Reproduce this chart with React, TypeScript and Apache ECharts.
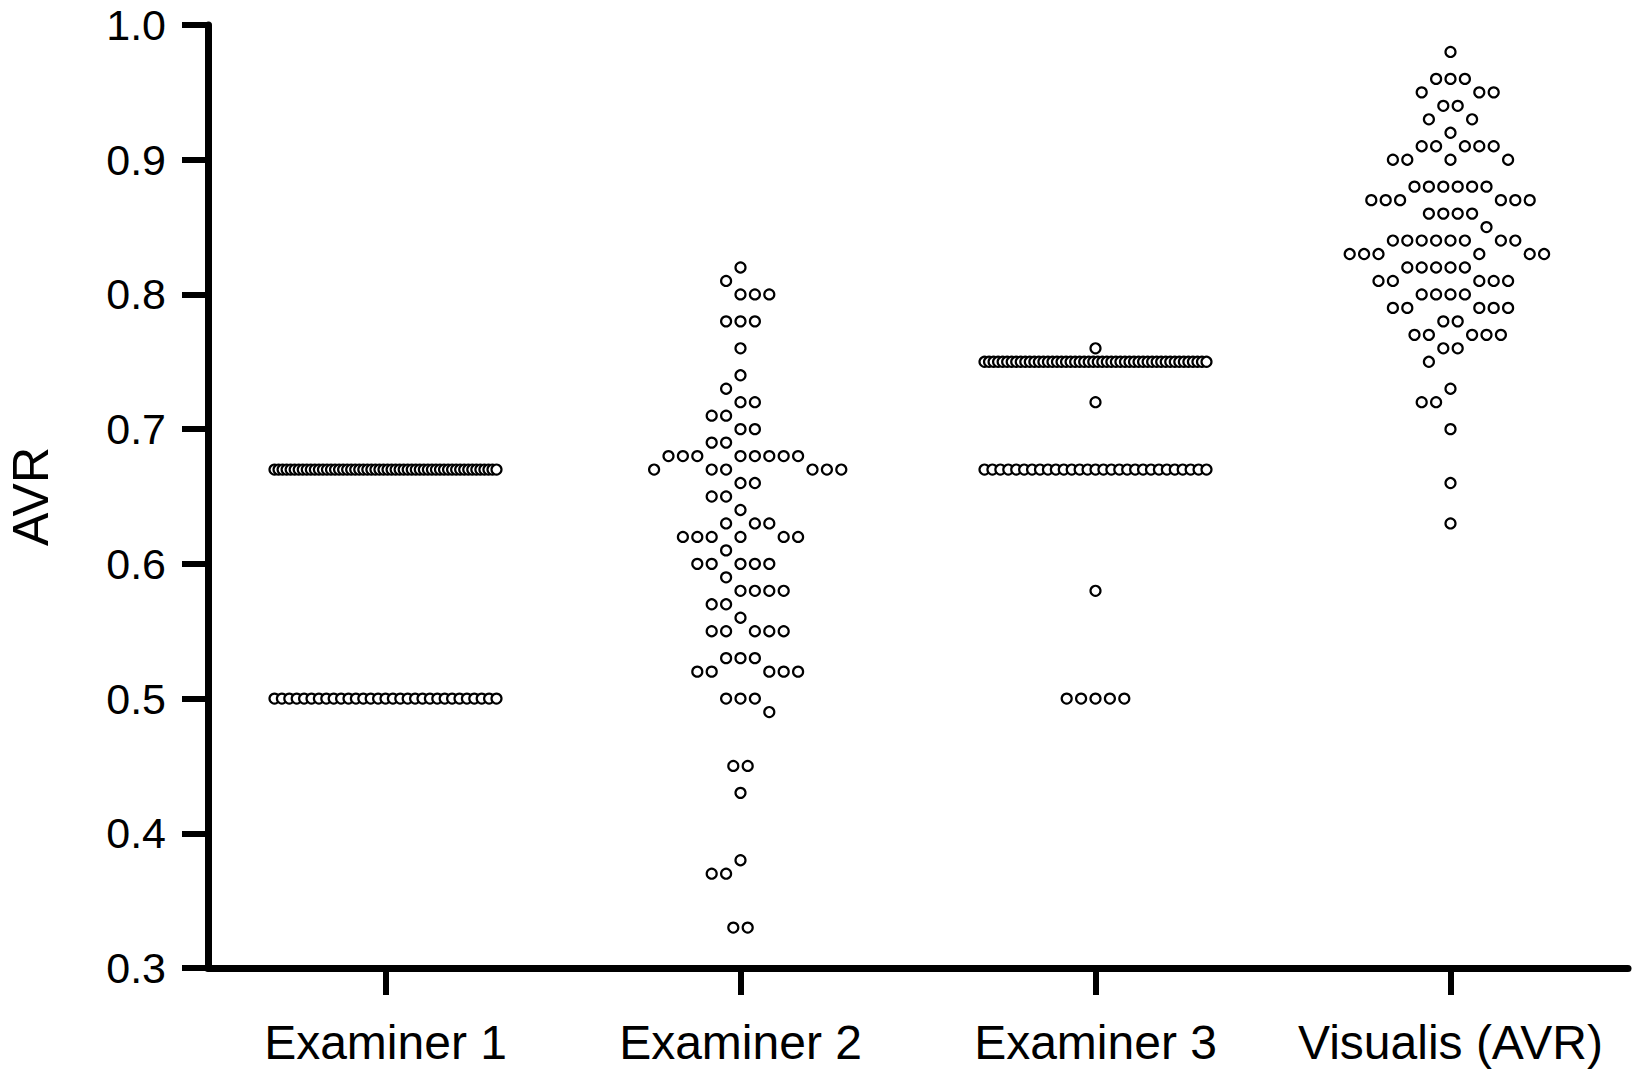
import React, { useEffect, useRef } from "react";
import * as echarts from "echarts";

// ---------- data ----------
const categories = ["Examiner 1", "Examiner 2", "Examiner 3", "Visualis (AVR)"];

// [AVR value, number of eyes with that value]
const examiner1: [number, number][] = [
  [0.67, 56],
  [0.5, 31],
];

const examiner2: [number, number][] = [
  [0.82, 1], [0.81, 1], [0.8, 3], [0.78, 3], [0.76, 1], [0.74, 1], [0.73, 1],
  [0.72, 2], [0.71, 2], [0.7, 2], [0.69, 2], [0.68, 8], [0.67, 6], [0.66, 2],
  [0.65, 2], [0.64, 1], [0.63, 3], [0.62, 6], [0.61, 1], [0.6, 5], [0.59, 1],
  [0.58, 4], [0.57, 2], [0.56, 1], [0.55, 5], [0.53, 3], [0.52, 5], [0.5, 3],
  [0.49, 1], [0.45, 2], [0.43, 1], [0.38, 1], [0.37, 2], [0.33, 2],
];

const examiner3: [number, number][] = [
  [0.76, 1],
  [0.75, 50],
  [0.72, 1],
  [0.67, 29],
  [0.58, 1],
  [0.5, 5],
];

const visualis: [number, number][] = [
  [0.98, 1], [0.96, 3], [0.95, 3], [0.94, 2], [0.93, 2], [0.92, 1], [0.91, 5],
  [0.9, 4], [0.88, 6], [0.87, 6], [0.86, 4], [0.85, 1], [0.84, 8], [0.83, 6],
  [0.82, 5], [0.81, 5], [0.8, 4], [0.79, 5], [0.78, 2], [0.77, 5], [0.76, 2],
  [0.75, 1], [0.73, 1], [0.72, 2], [0.7, 1], [0.66, 1], [0.63, 1],
];

const columns = [examiner1, examiner2, examiner3, visualis];

const yMin = 0.3;
const yMax = 1.0;
const yInterval = 0.1;

// ---------- layout ----------
const WIDTH = 1632;
const HEIGHT = 1082;
const GRID_LEFT = 208;
const GRID_RIGHT = 4;
const GRID_TOP = 25;
const GRID_BOTTOM = 114;
const CAT_PX = (WIDTH - GRID_LEFT - GRID_RIGHT) / categories.length;

const SLOT = 14.4; // px between neighbouring dots of a row
const HALF = SLOT / 2;
const MAX_HALF_SPAN = 111; // px, widest a row may spread

const FONT = "'Liberation Sans', Arial, Helvetica, sans-serif";

// Beeswarm layout: rows (same value) are spread on a half-slot grid,
// avoiding the dots of rows that differ by one step (0.01).
function swarm(rows: [number, number][]): { v: number; px: number }[] {
  const occ = new Map<number, number[]>();
  const out: { v: number; px: number }[] = [];
  const conflict = (k: number, h: number) => {
    for (let d = -1; d <= 1; d++) {
      const arr = occ.get(k + d);
      if (arr) for (const g of arr) if (Math.abs(g - h) < 2) return true;
    }
    return false;
  };
  for (const [v, n] of rows) {
    const k = Math.round(v * 100);
    if ((n - 1) * SLOT > 2 * MAX_HALF_SPAN) {
      const step = (2 * MAX_HALF_SPAN) / (n - 1);
      for (let i = 0; i < n; i++) out.push({ v, px: -MAX_HALF_SPAN + i * step });
      continue;
    }
    let chosen: number[] | null = null;
    for (const s of [0, -1, 1, -2, 2, -3, 3]) {
      const hs = Array.from({ length: n }, (_, i) => -(n - 1) + 2 * i + s);
      if (hs.every((h) => !conflict(k, h))) {
        chosen = hs;
        break;
      }
    }
    if (!occ.has(k)) occ.set(k, []);
    const arr = occ.get(k)!;
    if (chosen) {
      arr.push(...chosen);
      chosen.forEach((h) => out.push({ v, px: h * HALF }));
    } else {
      const mine: number[] = [];
      for (let i = 0; i < n; i++) {
        const bal = mine.reduce((a, g) => a + Math.sign(g), 0);
        let placed = false;
        for (let r = 0; r < 400 && !placed; r++) {
          const cands = r === 0 ? [0] : bal > 0 ? [-r, r] : [r, -r];
          for (const h of cands) {
            if (!conflict(k, h)) {
              arr.push(h);
              mine.push(h);
              placed = true;
              break;
            }
          }
        }
      }
      mine.forEach((h) => out.push({ v, px: h * HALF }));
    }
  }
  return out.sort((a, b) => a.px - b.px);
}

function buildOption() {
  const series = columns.map((rows, ci) => ({
    type: "scatter",
    name: categories[ci],
    xAxisIndex: 1,
    yAxisIndex: 0,
    symbol: "circle",
    symbolSize: 10,
    itemStyle: { color: "#ffffff", borderColor: "#000000", borderWidth: 2.2, opacity: 1 },
    emphasis: { disabled: true },
    data: swarm(rows).map((p) => [ci + p.px / CAT_PX, p.v]),
  }));

  return {
    animation: false,
    backgroundColor: "#ffffff",
    grid: {
      left: GRID_LEFT,
      right: GRID_RIGHT,
      top: GRID_TOP,
      bottom: GRID_BOTTOM,
      containLabel: false,
      outerBoundsMode: "none",
    },
    xAxis: [
      {
        type: "category",
        data: categories,
        boundaryGap: true,
        position: "bottom",
        axisLine: { show: true, onZero: false, lineStyle: { color: "#000", width: 7 } },
        axisTick: {
          show: true,
          interval: 0,
          alignWithLabel: true,
          length: 27,
          lineStyle: { color: "#000", width: 6 },
        },
        axisLabel: { interval: 0, color: "#000", fontSize: 48, fontFamily: FONT, margin: 50 },
        splitLine: { show: false },
      },
      {
        type: "value",
        min: -0.5,
        max: categories.length - 0.5,
        show: false,
      },
    ],
    yAxis: {
      type: "value",
      min: yMin,
      max: yMax,
      interval: yInterval,
      name: "AVR",
      nameLocation: "middle",
      nameGap: 152,
      nameRotate: 90,
      nameTextStyle: { color: "#000", fontSize: 50, fontFamily: FONT },
      axisLine: { show: true, onZero: false, lineStyle: { color: "#000", width: 7 } },
      axisTick: { show: true, length: 26, lineStyle: { color: "#000", width: 6 } },
      axisLabel: {
        color: "#000",
        fontSize: 43,
        lineHeight: 38,
        fontFamily: FONT,
        margin: 42,
        formatter: (v: number) => v.toFixed(1),
      },
      splitLine: { show: false },
    },
    series,
  };
}

export default function App() {
  const ref = useRef<HTMLDivElement>(null);
  useEffect(() => {
    document.body.style.margin = "0";
    const chart = echarts.init(ref.current!, null, { renderer: "svg" });
    chart.setOption(buildOption() as any);
    return () => chart.dispose();
  }, []);
  return <div ref={ref} style={{ width: WIDTH, height: HEIGHT, background: "#fff" }} />;
}
